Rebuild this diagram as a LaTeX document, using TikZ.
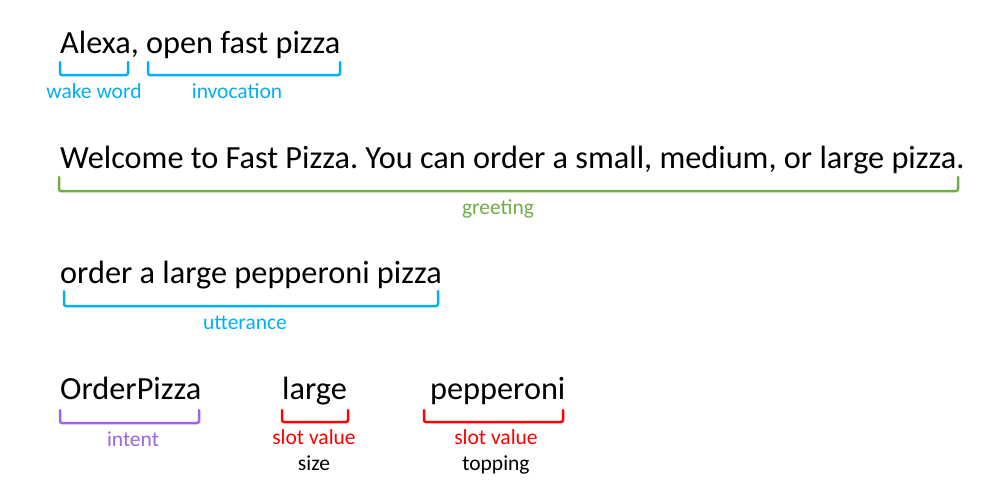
\documentclass[tikz,border=0pt]{standalone}
\usepackage{fontspec}
\setmainfont{Carlito}
\frenchspacing
\definecolor{cblue}{RGB}{0,176,240}
\definecolor{cgreen}{RGB}{112,173,71}
\definecolor{cpurple}{RGB}{153,102,230}
\definecolor{cred}{RGB}{255,0,0}
\tikzset{
  bigtext/.style={anchor=base west, inner sep=0pt, font=\fontsize{32.3}{38}\selectfont, text=black},
  lbl/.style={anchor=base, inner sep=0pt, font=\fontsize{21.5}{26}\selectfont},
  brk/.style={line width=2.5pt, rounded corners=2pt, line cap=round},
}
\begin{document}
\begin{tikzpicture}[x=1pt,y=-1pt]
\useasboundingbox (0,0) rectangle (1005,485);
% row 1
\node[bigtext] (t1) at (60,53) {Alexa, open fast pizza};
\coordinate (w1) at (60,62); \coordinate (w2) at (128,62);
\draw[brk,cblue] (w1) -- (60,75) -- (128,75) -- (w2);
\node[lbl,text=cblue] (lw) at (94,98) {wake word};
\coordinate (i1) at (148,62); \coordinate (i2) at (340,62);
\draw[brk,cblue] (i1) -- (148,75) -- (340,75) -- (i2);
\node[lbl,text=cblue] (li) at (237,98) {invocation};
% row 2
\node[bigtext] (t2) at (60,168) {Welcome to Fast Pizza. You can order a small, medium, or large pizza.};
\coordinate (g1) at (59,177); \coordinate (g2) at (958,177);
\draw[brk,cgreen] (g1) -- (59,191) -- (958,191) -- (g2);
\node[lbl,text=cgreen] (lg) at (498,214) {greeting};
% row 3
\node[bigtext] (t3) at (60,283) {order a large pepperoni pizza};
\coordinate (u1) at (64,291); \coordinate (u2) at (438,291);
\draw[brk,cblue] (u1) -- (64,306) -- (438,306) -- (u2);
\node[lbl,text=cblue] (lu) at (245,329) {utterance};
% row 4
\node[bigtext] (t4) at (60,399) {OrderPizza};
\node[bigtext] (t5) at (282,399) {large};
\node[bigtext] (t6) at (430,399) {pepperoni};
\coordinate (p1) at (60,410); \coordinate (p2) at (199,410);
\draw[brk,cpurple] (p1) -- (60,423) -- (199,423) -- (p2);
\node[lbl,text=cpurple] (lp) at (133,446) {intent};
\coordinate (s1) at (282,410); \coordinate (s2) at (348,410);
\draw[brk,cred] (s1) -- (282,422) -- (348,422) -- (s2);
\node[lbl,text=cred] (ls) at (314,444) {slot value};
\node[lbl,text=black] (lsz) at (314,470) {size};
\coordinate (r1) at (424,410); \coordinate (r2) at (563,410);
\draw[brk,cred] (r1) -- (424,422) -- (563,422) -- (r2);
\node[lbl,text=cred] (lr) at (496,444) {slot value};
\node[lbl,text=black] (ltp) at (496,470) {topping};
\end{tikzpicture}
\end{document}
